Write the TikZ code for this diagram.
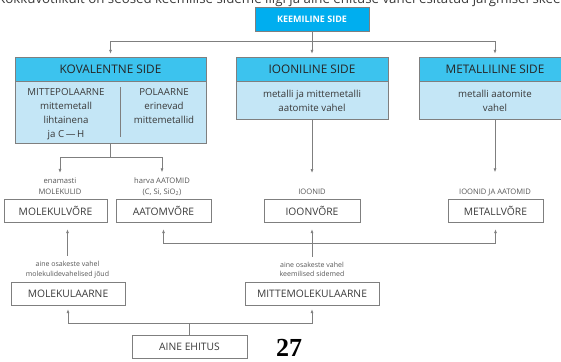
\documentclass[tikz,border=0pt]{standalone}
\usepackage{fontspec}
\setmainfont{Open Sans}
\newfontfamily\pagenumfont{Liberation Serif}
\usetikzlibrary{positioning, shapes, arrows.meta}
\definecolor{sidecyan}{HTML}{00AEEF}
\definecolor{headcyan}{HTML}{3CC3EE}
\definecolor{bodyblue}{HTML}{C4E6F6}
\definecolor{linegray}{HTML}{7F7F7F}
\definecolor{textgray}{HTML}{3A3A3A}
\tikzset{
  ln/.style={draw=linegray, line width=0.7pt},
  arr/.style={ln, -{Latex[length=4pt,width=3pt]}},
  headbox/.style={draw=linegray, fill=headcyan, minimum height=24pt, inner sep=0pt, text=black!85, font=\fontsize{11.8}{12}\selectfont},
  bodybox/.style={draw=linegray, fill=bodyblue, inner sep=0pt, align=center, text=textgray, font=\fontsize{9.7}{14}\selectfont},
  vbox/.style={draw=linegray, fill=white, minimum height=23pt, inner sep=0pt, text=textgray, font=\fontsize{10.3}{11}\selectfont},
  note/.style={inner sep=0pt, align=center, text=textgray!85, font=\fontsize{7.6}{11}\selectfont}}

\begin{document}
\begin{tikzpicture}[x=1pt, y=-1pt]
\useasboundingbox (0,0) rectangle (561,361);
\clip (0,0) rectangle (561,361);
\node[anchor=base west, inner sep=0pt, text=textgray, font=\fontsize{13.3}{14}\selectfont] (intro) at (-3,4) {Kokkuvõtlikult on seosed keemilise sideme liigi ja aine ehituse vahel esitatud järgmisel skeemil};
\node[draw=linegray, fill=sidecyan, minimum width=114pt, minimum height=24pt, inner sep=0pt, text=white, font=\fontsize{9}{11}\selectfont\bfseries] (keem) at (312,19) {KEEMILINE SIDE};

\node[headbox, minimum width=191pt] (kovhead) at (110.5,69) {KOVALENTNE SIDE};
\node[bodybox, minimum width=191pt, minimum height=62pt, below=0pt of kovhead] (kovbody) {};
\node[bodybox, draw=none, fill=none, anchor=north] (kovleft) at (66,88.5) {MITTEPOLAARNE\\mittemetall\\lihtainena\\ja C\,---\,H};
\node[bodybox, draw=none, fill=none, anchor=north] (kovright) at (164,88.5) {POLAARNE\\erinevad\\mittemetallid};
\coordinate (kovsplit) at (120,112);
\draw[ln] ([yshift=25pt]kovsplit) -- ([yshift=-25pt]kovsplit);

\node[headbox, minimum width=152pt] (ionhead) at (312,69) {IOONILINE SIDE};
\node[bodybox, minimum width=152pt, minimum height=38pt, below=0pt of ionhead] (ionbody) {metalli ja mittemetalli\\aatomite vahel};
\node[headbox, minimum width=152pt] (methead) at (495,69) {METALLILINE SIDE};
\node[bodybox, minimum width=152pt, minimum height=38pt, below=0pt of methead] (metbody) {metalli aatomite\\vahel};

\node[note] (molnote) at (60,186.5) {enamasti\\MOLEKULID};
\node[note] (atomnote) at (162,186.5) {harva AATOMID\\(C, Si, SiO\textsubscript{2})};
\node[note] (ionnote) at (312,192) {IOONID};
\node[note] (metnote) at (495,192) {IOONID JA AATOMID};

\node[vbox, minimum width=103pt] (molvbox) at (55.5,210.5) {MOLEKULVÕRE};
\node[vbox, minimum width=95pt] (atomvbox) at (163.5,210.5) {AATOMVÕRE};
\node[vbox, minimum width=96pt] (ionvbox) at (312,210.5) {IOONVÕRE};
\node[vbox, minimum width=95pt] (metvbox) at (495.5,210.5) {METALLVÕRE};

\node[note, font=\fontsize{7}{9.7}\selectfont] (molanote) at (67.5,269.5) {aine osakeste vahel\\molekulidevahelised jõud};
\node[note, font=\fontsize{7}{9.7}\selectfont] (mmolnote) at (312,269.5) {aine osakeste vahel\\keemilised sidemed};
\node[vbox, minimum width=114pt] (molabox) at (68,293.5) {MOLEKULAARNE};
\node[vbox, minimum width=134pt] (mmolabox) at (312,293.5) {MITTEMOLEKULAARNE};
\node[vbox, minimum width=115pt] (ainebox) at (189.5,346.5) {AINE EHITUS};
\node[inner sep=0pt, font=\pagenumfont\fontsize{26}{26}\selectfont\bfseries] (pagenum) at (289,348) {27};

\coordinate (keemfork) at (312,41);
\draw[ln] (keem.south) -- (keemfork);
\draw[arr, shorten >=3pt] (keemfork) -| (kovhead.north);
\draw[arr, shorten >=3pt] (keemfork) -- (ionhead.north);
\draw[arr, shorten >=3pt] (keemfork) -| (methead.north);

\coordinate (kovfork) at (110.5,157);
\draw[ln] (kovbody.south) -- (kovfork);
\draw[arr, shorten >=5pt] (kovfork) -| (molnote.north);
\draw[arr, shorten >=5pt] (kovfork) -| (atomnote.north);
\draw[arr, shorten >=16pt] (ionbody.south) -- (ionnote.north);
\draw[arr, shorten >=16pt] (metbody.south) -- (metnote.north);

\draw[arr, shorten <=5pt, shorten >=7pt] (molanote.north) -- (molanote.north |- molvbox.south);
\coordinate (upfork) at (312,243);
\draw[ln, shorten <=5pt] (mmolnote.north) -- (upfork);
\draw[arr, shorten >=7pt] (upfork) -- (ionvbox.south);
\draw[arr, shorten >=7pt] (upfork) -| (atomvbox.south);
\draw[arr, shorten >=7pt] (upfork) -| (metvbox.south);

\coordinate (ainefork) at (189.5,323);
\draw[ln] (ainebox.north) -- (ainefork);
\draw[arr, shorten >=4pt] (ainefork) -| (molabox.south);
\draw[arr, shorten >=4pt] (ainefork) -| (mmolabox.south);
\end{tikzpicture}
\end{document}
